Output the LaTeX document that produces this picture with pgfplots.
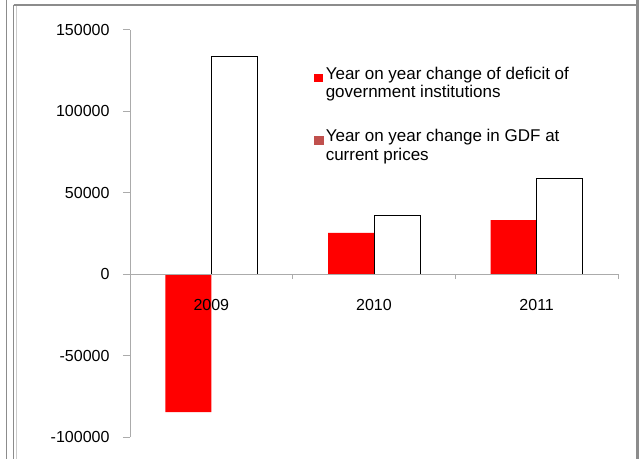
\documentclass[border=0pt]{standalone}
\usepackage{fontspec}
\setmainfont{Liberation Sans}
\usepackage{pgfplots}
\pgfplotsset{compat=1.18}
\definecolor{axgray}{HTML}{ABABAB}
\definecolor{framegray}{HTML}{8C8C8C}
\definecolor{leg2}{HTML}{C0504D}
\begin{document}
\begin{tikzpicture}[x=1pt,y=1pt]
\useasboundingbox (0pt,0pt) rectangle (640pt,-459pt);
\draw[framegray, line width=1pt] (6pt,0pt) -- (6pt,-459pt);
\draw[framegray, line width=1.6pt] (13.5pt,-4.5pt) -- (13.5pt,-459pt);
\draw[gray!40, line width=0.8pt] (16pt,-6pt) -- (16pt,-459pt);
\draw[framegray, line width=1.4pt] (13.5pt,-5pt) -- (636pt,-5pt);
\draw[framegray, line width=2.5pt] (637.5pt,0pt) -- (637.5pt,-459pt);
\begin{axis}[
  at={(130pt,-437pt)}, anchor=south west,
  scale only axis, width=488pt, height=407.5pt,
  xmin=-0.5, xmax=2.5, ymin=-100000, ymax=150000,
  axis y line=left, axis x line*=middle,
  axis on top,
  axis line style={-, axgray, line width=1pt},
  hide obscured x ticks=false, hide obscured y ticks=false,
  ybar=0pt, bar width=46pt,
  xtick={0,1,2}, xticklabels={2009,2010,2011},
  minor xtick={0.5,1.5,2.5},
  ytick={-100000,-50000,0,50000,100000,150000},
  yticklabels={-100000,-50000,0,50000,100000,150000},
  scaled y ticks=false,
  tick align=outside,
  major tick length=7pt, minor tick length=5pt,
  x tick style={draw=none},
  minor x tick style={draw=axgray, line width=1pt},
  y tick style={draw=axgray, line width=1pt},
  tick label style={font=\fontsize{16}{18}\selectfont, text=black},
  yticklabel style={xshift=-10pt},
  xticklabel style={yshift=-15pt},
  legend style={at={(0.37,0.92)}, anchor=north west, draw=none, fill=none,
    font=\fontsize{17}{18.5}\selectfont, row sep=34pt},
  legend cell align=left,
]
\addplot[fill=red, draw=none,
  legend image code/.code={\fill[red] (0pt,-4pt) rectangle (9pt,4pt);}]
  coordinates {(0,-84700) (1,25200) (2,33100)};
\addlegendentry{\begin{tabular}{@{}l@{}}Year on year change of deficit of\\government institutions\end{tabular}}
\addplot[fill=white, draw=black, line width=1pt,
  legend image code/.code={\fill[leg2] (0pt,-4pt) rectangle (9pt,4pt);}]
  coordinates {(0,133700) (1,35600) (2,58300)};
\addlegendentry{\begin{tabular}{@{}l@{}}Year on year change in GDF at\\current prices\end{tabular}}
\end{axis}
\end{tikzpicture}
\end{document}
